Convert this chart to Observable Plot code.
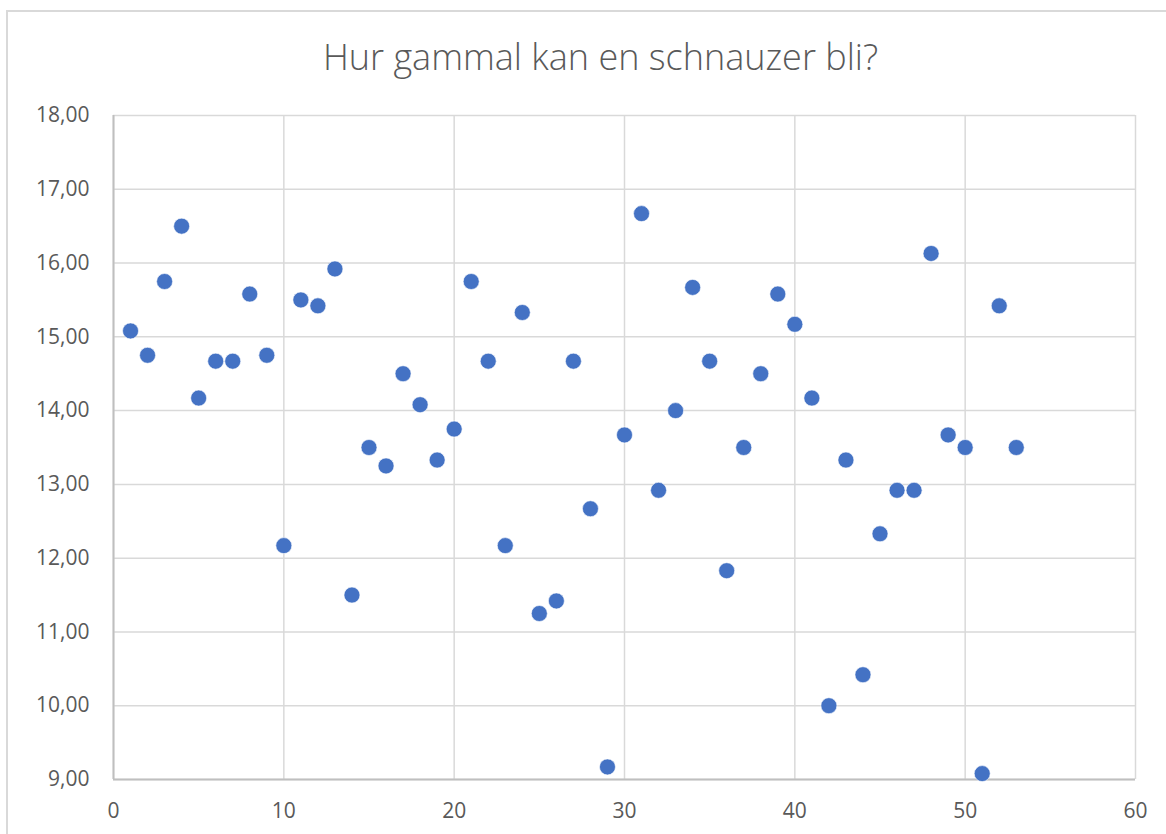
<!DOCTYPE html>
<html><head><meta charset="utf-8">
<script src="https://cdn.jsdelivr.net/npm/d3@7"></script>
<script src="https://cdn.jsdelivr.net/npm/@observablehq/plot@0.6"></script>
<style>
body{margin:0;background:#fff;overflow:hidden;width:1166px;height:834px;position:relative}
#frame{position:absolute;left:6px;top:10px;width:1300px;height:1000px;border:2px solid #d9d9d9;box-sizing:border-box}
#chart{position:absolute;left:0;top:0}
</style></head><body>
<div id="frame"></div><div id="chart"></div>
<script>
const title = "Hur gammal kan en schnauzer bli?";
const dogNumber = [1,2,3,4,5,6,7,8,9,10,11,12,13,14,15,16,17,18,19,20,21,22,23,24,25,26,27,28,29,30,31,32,33,34,35,36,37,38,39,40,41,42,43,44,45,46,47,48,49,50,51,52,53];
const ageYears = [15.08,14.75,15.75,16.5,14.17,14.67,14.67,15.58,14.75,12.17,
                  15.5,15.42,15.92,11.5,13.5,13.25,14.5,14.08,13.33,13.75,
                  15.75,14.67,12.17,15.33,11.25,11.42,14.67,12.67,9.17,13.67,
                  16.67,12.92,14.0,15.67,14.67,11.83,13.5,14.5,15.58,15.17,
                  14.17,10.0,13.33,10.42,12.33,12.92,12.92,16.13,13.67,13.5,
                  9.08,15.42,13.5];
const xTicks = [0,10,20,30,40,50,60];
const yTicks = [9,10,11,12,13,14,15,16,17,18];

const data = dogNumber.map((n, i) => ({n, age: ageYears[i]}));
const fmt = v => v.toFixed(2).replace(".", ",");
const font = "'Open Sans', 'Noto Sans', sans-serif";

const plot = Plot.plot({
  width: 1166, height: 834,
  marginLeft: 113, marginRight: 31, marginTop: 115, marginBottom: 55,
  style: {fontFamily: font, fontSize: "21px", color: "#595959", background: "transparent", overflow: "visible"},
  x: {domain: [0, 60], label: null},
  y: {domain: [9, 18], label: null},
  marks: [
    Plot.gridX(xTicks, {stroke: "#d9d9d9", strokeOpacity: 1, strokeWidth: 1.5}),
    Plot.gridY(yTicks, {stroke: "#d9d9d9", strokeOpacity: 1, strokeWidth: 1.5}),
    Plot.axisX(xTicks, {tickSize: 0, tickPadding: 24, fontSize: 21, fill: "#595959", label: null}),
    Plot.axisY(yTicks, {tickSize: 0, tickPadding: 24, tickFormat: fmt, fontSize: 21, fill: "#595959", label: null}),
    Plot.ruleX([0], {stroke: "#bfbfbf", strokeWidth: 2}),
    Plot.ruleY([9], {stroke: "#bfbfbf", strokeWidth: 2}),
    Plot.dot(data, {x: "n", y: "age", r: 8, fill: "#4472C4", stroke: "#ffffff", strokeWidth: 0.6}),
    Plot.text([title], {frameAnchor: "top", lineAnchor: "middle", dy: -57, dx: -24, fontSize: 36, fontWeight: 300, fill: "#595959", fontFamily: font})
  ]
});
document.getElementById("chart").appendChild(plot);
</script>
</body></html>
